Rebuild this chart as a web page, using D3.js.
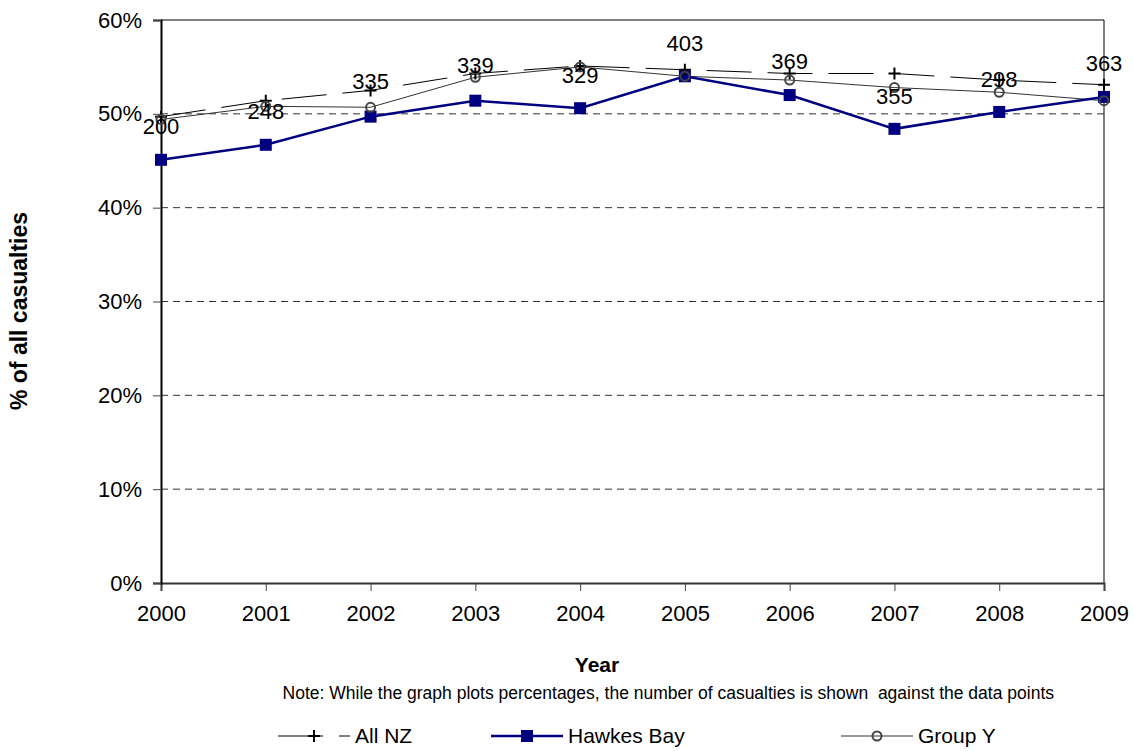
<!DOCTYPE html>
<html>
<head>
<meta charset="utf-8">
<script src="https://cdn.jsdelivr.net/npm/d3@7"></script>
<style>
  body { margin: 0; background: #fff; }
  svg { font-family: "Liberation Sans", Arial, sans-serif; }
</style>
</head>
<body>
<div class="chart"></div>
<script>
// data
const years = [2000, 2001, 2002, 2003, 2004, 2005, 2006, 2007, 2008, 2009];
const allNZ = [0.497, 0.514, 0.525, 0.543, 0.551, 0.547, 0.543, 0.543, 0.536, 0.531];
const hawkesBay = [0.451, 0.467, 0.497, 0.514, 0.506, 0.540, 0.520, 0.484, 0.502, 0.518];
const groupY = [0.494, 0.508, 0.507, 0.539, 0.550, 0.540, 0.536, 0.528, 0.523, 0.514];
// casualty counts shown on the points, and where each label sits (in %)
const counts = [200, 248, 335, 339, 329, 403, 369, 355, 298, 363];
const countPos = [0.4865, 0.503, 0.535, 0.5515, 0.541, 0.575, 0.556, 0.519, 0.537, 0.554];
const yTicks = [0, 0.1, 0.2, 0.3, 0.4, 0.5, 0.6];

const width = 1134;
const height = 751;

let x = d3.scaleLinear().domain([2000, 2009]).range([161, 1104]);
let y = d3.scaleLinear().domain([0, 0.6]).range([583, 20]);

let graph = d3
  .select(".chart")
  .append("svg")
  .attr("width", width)
  .attr("height", height);

// dashed gridlines
graph
  .append("g")
  .selectAll("line")
  .data(yTicks.filter(d => d > 0 && d < 0.6))
  .enter()
  .append("line")
  .attr("x1", x(2000))
  .attr("x2", x(2009))
  .attr("y1", d => y(d))
  .attr("y2", d => y(d))
  .attr("stroke", "#333")
  .attr("stroke-width", 1)
  .attr("stroke-dasharray", "7,5");

// plot area border top and right
graph
  .append("path")
  .attr("d", `M${x(2000)},${y(0.6)}H${x(2009)}V${y(0)}`)
  .attr("fill", "none")
  .attr("stroke", "#000")
  .attr("stroke-width", 1);

// axes
let yAxis = g =>
  g
    .attr("transform", `translate(${x(2000)},0)`)
    .call(
      d3
        .axisLeft(y)
        .tickValues(yTicks)
        .tickSize(8)
        .tickPadding(11)
        .tickFormat(d3.format(".0%"))
    )
    .call(g => g.select(".domain").attr("stroke", "#000").attr("stroke-width", 2));

let xAxis = g =>
  g
    .attr("transform", `translate(0,${y(0)})`)
    .call(
      d3
        .axisBottom(x)
        .tickValues(years)
        .tickSize(8)
        .tickPadding(14)
        .tickFormat(d3.format("d"))
    )
    .call(g => g.select(".domain").attr("stroke", "#333").attr("stroke-width", 2));

graph.append("g").call(xAxis);
graph.append("g").call(yAxis);

graph
  .selectAll(".tick text")
  .attr("font-family", "Liberation Sans, Arial, sans-serif")
  .attr("font-size", 22)
  .attr("fill", "#000");
graph.selectAll(".tick line").attr("stroke", "#444").attr("stroke-width", 1);

// axis titles
graph
  .append("text")
  .text("% of all casualties")
  .attr("transform", "translate(27,311) rotate(-90)")
  .attr("text-anchor", "middle")
  .attr("font-size", 23)
  .attr("font-weight", "bold");

graph
  .append("text")
  .text("Year")
  .attr("x", 597)
  .attr("y", 672)
  .attr("text-anchor", "middle")
  .attr("font-size", 21)
  .attr("font-weight", "bold");

graph
  .append("text")
  .text("Note: While the graph plots percentages, the number of casualties is shown \u00a0against the data points")
  .attr("x", 1054)
  .attr("y", 699)
  .attr("text-anchor", "end")
  .attr("font-size", 17.5);

let line = d3
  .line()
  .x((d, i) => x(years[i]))
  .y(d => y(d));

// Group Y
graph
  .append("path")
  .attr("d", line(groupY))
  .attr("fill", "none")
  .attr("stroke", "#333")
  .attr("stroke-width", 1);

// All NZ
graph
  .append("path")
  .attr("d", line(allNZ))
  .attr("fill", "none")
  .attr("stroke", "#000")
  .attr("stroke-width", 1)
  .attr("stroke-dasharray", "45,16");

// Hawkes Bay
graph
  .append("path")
  .attr("d", line(hawkesBay))
  .attr("fill", "none")
  .attr("stroke", "#000080")
  .attr("stroke-width", 2.5);

let plus = (sel, cx, cy) =>
  sel
    .append("path")
    .attr("d", `M${cx - 6},${cy}H${cx + 6}M${cx},${cy - 6}V${cy + 6}`)
    .attr("stroke", "#000")
    .attr("stroke-width", 2);

let square = (sel, cx, cy) =>
  sel
    .append("rect")
    .attr("x", cx - 6)
    .attr("y", cy - 6)
    .attr("width", 12)
    .attr("height", 12)
    .attr("fill", "#000080");

let ring = (sel, cx, cy) =>
  sel
    .append("circle")
    .attr("cx", cx)
    .attr("cy", cy)
    .attr("r", 4.5)
    .attr("fill", "none")
    .attr("stroke", "#444")
    .attr("stroke-width", 2);

let markers = graph.append("g");
hawkesBay.forEach((d, i) => square(markers, x(years[i]), y(d)));
allNZ.forEach((d, i) => plus(markers, x(years[i]), y(d)));
groupY.forEach((d, i) => ring(markers, x(years[i]), y(d)));

// count labels
graph
  .append("g")
  .selectAll("text")
  .data(counts)
  .enter()
  .append("text")
  .attr("x", (d, i) => x(years[i]))
  .attr("y", (d, i) => y(countPos[i]))
  .attr("dy", "0.35em")
  .attr("text-anchor", "middle")
  .attr("font-size", 22)
  .text(d => d);

// legend
let legendY = 736;
let legend = [
  { name: "All NZ", x: 278, draw: plus, stroke: "#000", w: 1, dash: "45,16" },
  { name: "Hawkes Bay", x: 491, draw: square, stroke: "#000080", w: 2.5, dash: null },
  { name: "Group Y", x: 841, draw: ring, stroke: "#333", w: 1, dash: null }
];

legend.forEach(l => {
  let g = graph.append("g");
  g.append("line")
    .attr("x1", l.x)
    .attr("x2", l.x + 72)
    .attr("y1", legendY)
    .attr("y2", legendY)
    .attr("stroke", l.stroke)
    .attr("stroke-width", l.w)
    .attr("stroke-dasharray", l.dash);
  l.draw(g, l.x + 36, legendY);
  g.append("text")
    .attr("x", l.x + 77)
    .attr("y", legendY)
    .attr("dy", "0.35em")
    .attr("font-size", 21)
    .text(l.name);
});
</script>
</body>
</html>
